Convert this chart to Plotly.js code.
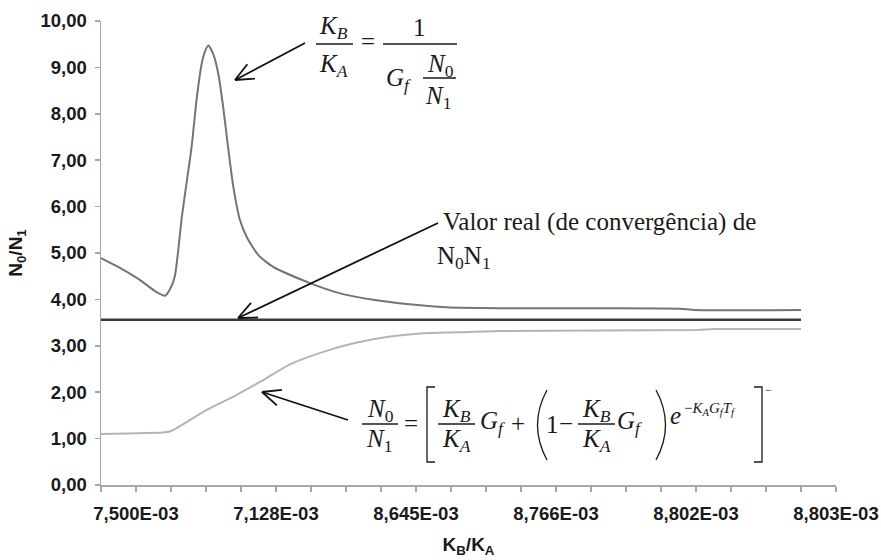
<!DOCTYPE html>
<html>
<head>
<meta charset="utf-8">
<script src="https://cdn.plot.ly/plotly-3.0.1.min.js"></script>
<style>html,body{margin:0;padding:0;background:#fff;}#chart{width:881px;height:560px;}</style>
</head>
<body>
<div id="chart"></div>
<script>
// ---- data (x in category-tick units along the K_B/K_A axis) ----
const tickLabels = ["7,500E-03", "7,128E-03", "8,645E-03", "8,766E-03", "8,802E-03", "8,803E-03"];
const tickLabelPos = [1, 5, 9, 13, 17, 21];
const tickPos = [0,1,2,3,4,5,6,7,8,9,10,11,12,13,14,15,16,17,18,19,20,21];
const yTicks = [0,1,2,3,4,5,6,7,8,9,10];

const peakX = [0, 0.54, 1.11, 1.54, 1.83, 1.97, 2.11, 2.31, 2.45, 2.59, 2.73, 2.88, 2.97, 3.07, 3.2, 3.35, 3.49, 3.64, 3.78, 3.97, 4.16, 4.49, 4.92, 5.97, 6.83, 7.78, 8.73, 9.87, 11.4, 14.26, 16.54, 16.97, 20];
const peakY = [4.89, 4.68, 4.42, 4.18, 4.08, 4.22, 4.50, 5.78, 6.54, 7.29, 8.30, 9.09, 9.34, 9.47, 9.30, 8.87, 8.15, 7.22, 6.43, 5.71, 5.35, 4.96, 4.70, 4.35, 4.13, 3.99, 3.90, 3.83, 3.81, 3.81, 3.80, 3.77, 3.77];

const realX = [0, 20];
const realY = [3.56, 3.56];

const lowX = [0, 1.83, 2.02, 3.02, 3.77, 4.54, 5.4, 6.35, 7.31, 8.26, 9.21, 10.16, 11.4, 14.26, 17.06, 17.49, 20];
const lowY = [1.10, 1.135, 1.17, 1.62, 1.90, 2.22, 2.60, 2.87, 3.07, 3.20, 3.27, 3.29, 3.32, 3.33, 3.34, 3.36, 3.36];

// ---- layout helpers (pixel -> paper) ----
const W = 881, H = 560, ML = 101, MR = 45, MT = 21, MB = 75;
const PW = W - ML - MR, PH = H - MT - MB;
const X = px => (px - ML) / PW;
const Y = py => (H - MB - py) / PH;
const SERIF = "Liberation Serif, Times New Roman, serif";
const SANS = "Liberation Sans, Arial, sans-serif";
const INK = "#1a1a1a";

function txt(s, px, py, size, anchor) {
  return {text: s, xref: 'paper', yref: 'paper', x: X(px), y: Y(py),
    xanchor: anchor || 'center', yanchor: 'middle', showarrow: false,
    font: {family: SERIF, size: size || 25, color: INK}};
}
function hline(x0, x1, y, w) {
  return {type: 'line', xref: 'paper', yref: 'paper', x0: X(x0), x1: X(x1), y0: Y(y), y1: Y(y),
    line: {color: INK, width: w || 1.3}};
}
function path(cmds, w) {
  const d = cmds.map(c => {
    let s = c[0];
    for (let i = 1; i < c.length; i += 2) s += (i > 1 ? ' ' : '') + X(c[i]) + ',' + Y(c[i + 1]);
    return s;
  }).join(' ');
  return {type: 'path', xref: 'paper', yref: 'paper', path: d, line: {color: INK, width: w || 1.3}};
}
function arrow(hx, hy, tx, ty) {
  const out = [];
  out.push({type: 'line', xref: 'paper', yref: 'paper', x0: X(hx), y0: Y(hy), x1: X(tx), y1: Y(ty),
    line: {color: '#111', width: 1.8}});
  const th = Math.atan2(ty - hy, tx - hx), L = 20, a = 24 * Math.PI / 180;
  [th + a, th - a].forEach(t => {
    out.push({type: 'line', xref: 'paper', yref: 'paper', x0: X(hx), y0: Y(hy),
      x1: X(hx + L * Math.cos(t)), y1: Y(hy + L * Math.sin(t)), line: {color: '#111', width: 1.8}});
  });
  return out;
}
const KB = "<i>K</i><sub><i>B</i></sub>", KA = "<i>K</i><sub><i>A</i></sub>", Gf = "<i>G</i><sub><i>f</i></sub>";
const Tf = "<i>T</i><sub><i>f</i></sub>";

const annotations = [
  // top formula
  txt(KB, 333, 28), txt(KA, 333, 66), txt("=", 368, 42), txt("1", 419, 28),
  txt(Gf, 384, 79, 25, 'left'), txt("<i>N</i><sub>0</sub>", 440, 66), txt("<i>N</i><sub>1</sub>", 438, 97),
  // middle label
  txt("Valor real (de convergência) de", 441, 222, 25, 'left'),
  txt("N<sub>0</sub>N<sub>1</sub>", 435, 257, 25, 'left'),
  // bottom formula
  txt("<i>N</i><sub>0</sub>", 380, 410), txt("<i>N</i><sub>1</sub>", 379, 440), txt("=", 411, 423),
  txt(KB, 456, 410), txt(KA, 456, 440), txt(Gf, 478, 422, 25, 'left'), txt("+", 518, 423),
  txt("1", 552.5, 424), txt("−", 566, 423),
  txt(KB, 596, 410), txt(KA, 596, 440), txt(Gf, 615, 422, 25, 'left'),
  txt("<i>e</i>", 668, 415, 25, 'left'),
  txt("−" + KA + Gf + Tf, 682, 409, 15, 'left'),
  txt("−", 768, 390, 12)
];

const shapes = [
  hline(316, 353, 44), hline(383, 457, 44), hline(423, 456, 78),
  hline(362, 398, 424), hline(438, 475, 424), hline(578, 615, 424),
  path([['M', 435, 387], ['L', 427, 387], ['L', 427, 462], ['L', 435, 462]]),
  path([['M', 754, 387], ['L', 762, 387], ['L', 762, 462], ['L', 754, 462]]),
  path([['M', 547, 390], ['Q', 528, 425, 547, 460]]),
  path([['M', 656, 390], ['Q', 675, 425, 656, 460]]),
  ...arrow(235, 80, 305, 43),
  ...arrow(238, 318, 438, 223),
  ...arrow(262, 392, 348, 420)
];

const traces = [
  {x: peakX, y: peakY, mode: 'lines', line: {color: '#747474', width: 2, shape: 'spline', smoothing: 0.6}, hoverinfo: 'skip'},
  {x: realX, y: realY, mode: 'lines', line: {color: '#3a3a3a', width: 2.5}, hoverinfo: 'skip'},
  {x: lowX, y: lowY, mode: 'lines', line: {color: '#b4b4b4', width: 2, shape: 'spline', smoothing: 0.6}, hoverinfo: 'skip'}
];

const axisGrey = '#a6a6a6';
const tickFont = {family: SANS, size: 18.5, weight: 'bold', color: INK};
const layout = {
  width: W, height: H,
  margin: {l: ML, r: MR, t: MT, b: MB, pad: 0},
  paper_bgcolor: '#fff', plot_bgcolor: '#fff',
  showlegend: false,
  separators: ',.',
  xaxis: {
    range: [0, 21], tickmode: 'array', tickvals: tickPos,
    ticktext: tickPos.map(p => { const i = tickLabelPos.indexOf(p); return i >= 0 ? tickLabels[i] : ''; }),
    ticks: 'outside', ticklen: 5, tickwidth: 1.5, tickcolor: axisGrey,
    showline: true, linecolor: axisGrey, linewidth: 1.5,
    showgrid: false, zeroline: false, tickfont: tickFont, ticklabelstandoff: 6,
    title: {text: 'K<sub>B</sub>/K<sub>A</sub>', font: {family: SANS, size: 19, weight: 'bold', color: INK}, standoff: 15}
  },
  xaxis2: {
    overlaying: 'x', anchor: 'y', side: 'bottom', range: [0, 21], tickmode: 'array', tickvals: tickPos,
    ticks: 'inside', ticklen: 5, tickwidth: 1.5, tickcolor: axisGrey,
    showticklabels: false, showline: false, showgrid: false, zeroline: false
  },
  yaxis: {
    range: [0, 10], tickmode: 'array', tickvals: yTicks, tickformat: '.2f',
    ticks: 'outside', ticklen: 5, tickwidth: 1.5, tickcolor: axisGrey,
    showline: true, linecolor: axisGrey, linewidth: 1.5,
    showgrid: false, zeroline: false, tickfont: tickFont, ticklabelstandoff: 4,
    title: {text: 'N<sub>0</sub>/N<sub>1</sub>', font: {family: SANS, size: 19, weight: 'bold', color: INK}, standoff: 13}
  },
  yaxis2: {
    overlaying: 'y', anchor: 'x', side: 'left', range: [0, 10], tickmode: 'array', tickvals: yTicks,
    ticks: 'inside', ticklen: 7, tickwidth: 1.5, tickcolor: axisGrey,
    showticklabels: false, showline: false, showgrid: false, zeroline: false
  },
  annotations: annotations,
  shapes: shapes
};

Plotly.newPlot('chart', traces, layout, {staticPlot: true, displayModeBar: false});
</script>
</body>
</html>
